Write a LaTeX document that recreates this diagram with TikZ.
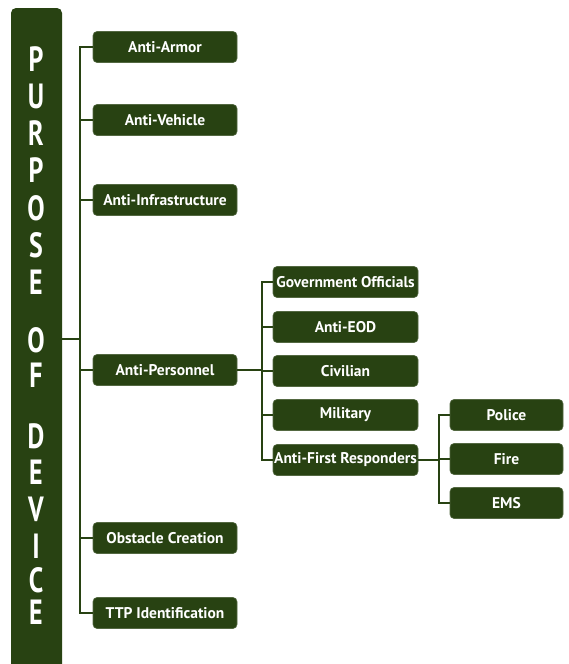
\documentclass[tikz,border=0pt]{standalone}
\usepackage{fontspec}
\setmainfont{PT Sans}
\newfontfamily\boxfont{PT Sans}
\newfontfamily\bigfont{PT Sans}[FakeStretch=0.74]
\definecolor{olive}{RGB}{40,66,18}
\begin{document}
\begin{tikzpicture}[x=1pt,y=-1pt,
  box/.style={fill=olive,draw=olive!80!white,line width=0.6pt,rounded corners=4pt,minimum height=31pt,inner sep=0pt,text=white,font=\boxfont\bfseries\fontsize{15.5}{16}\selectfont},
  boxa/.style={box,minimum width=144pt},
  boxb/.style={box,minimum width=145pt},
  boxc/.style={box,minimum width=113pt},
  conn/.style={draw=olive,line width=2pt},
  letter/.style={text=white,font=\bigfont\bfseries\fontsize{35}{36}\selectfont,inner sep=0pt}]
\useasboundingbox (0,0) rectangle (568,664);
% title bar
\path[fill=olive,rounded corners=5pt] (11,680) -- (11,8) -- (62,8) -- (62,680) -- cycle;
\coordinate (bar) at (62,339);
\foreach \l/\y in {P/59,U/96,R/133,P/170,O/208,S/245,E/282,O/340,F/375,D/436,E/472,V/509,I/546,C/580,E/612}
  \node[letter] at (36,\y) {\l};
% level 1
\node[boxa] (armor) at (165,47) {Anti-Armor};
\node[boxa] (vehicle) at (165,120) {Anti-Vehicle};
\node[boxa] (infra) at (165,200) {Anti-Infrastructure};
\node[boxa] (pers) at (165,370) {Anti-Personnel};
\node[boxa] (obst) at (165,538) {Obstacle Creation};
\node[boxa] (ttp) at (165,613) {TTP Identification};
% level 2
\node[boxb] (gov) at (345.5,282) {Government Officials};
\node[boxb] (eod) at (345.5,327) {Anti-EOD};
\node[boxb] (civ) at (345.5,371) {Civilian};
\node[boxb] (mil) at (345.5,415) {Military};
\node[boxb] (afr) at (345.5,460) {Anti-First Responders};
% level 3
\node[boxc] (police) at (506.5,415) {Police};
\node[boxc] (fire) at (506.5,459) {Fire};
\node[boxc] (ems) at (506.5,503) {EMS};
% connectors
\coordinate (v1) at (80,0);
\draw[conn] (armor.west) -| (v1 |- ttp) -- (ttp.west);
\foreach \n in {vehicle,infra,pers,obst} \draw[conn] (\n.west) -- (v1 |- \n);
\draw[conn] (bar) -- (v1 |- bar);
\coordinate (v2) at (262,0);
\draw[conn] (gov.west) -| (v2 |- afr) -- (afr.west);
\foreach \n in {eod,civ,mil} \draw[conn] (\n.west) -- (v2 |- \n);
\draw[conn] (pers.east) -- (v2 |- pers);
\coordinate (v3) at (439,0);
\draw[conn] (police.west) -| (v3 |- ems) -- (ems.west);
\draw[conn] (fire.west) -- (v3 |- fire);
\draw[conn] (afr.east) -- (v3 |- afr);
\end{tikzpicture}
\end{document}
